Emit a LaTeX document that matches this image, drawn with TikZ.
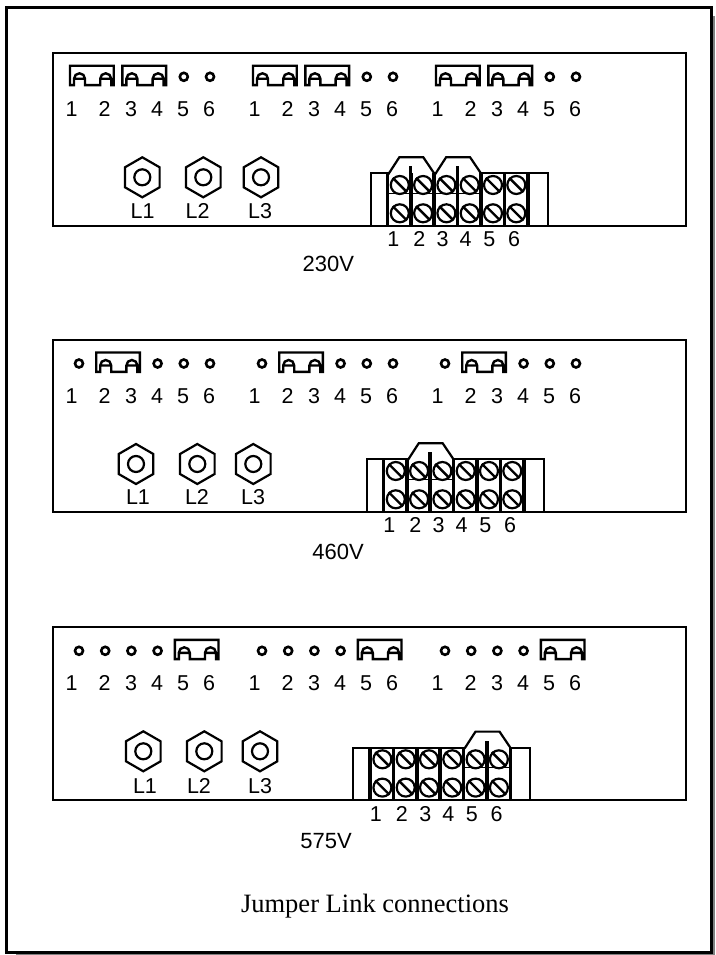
\documentclass[tikz,border=0pt]{standalone}
\usepackage{fontspec}
\setmainfont{Liberation Sans}
\newfontfamily\captionserif{Liberation Serif}
\usetikzlibrary{shapes.geometric}
\newcommand{\jumperlink}[3]{%
  \draw[linkwire] ({#1-9.5},{#3+8.3}) -- ({#1-9.5},{#3-11}) -- ({#2+8},{#3-11}) -- ({#2+8},{#3+8.3})
    -- ({#2+5.5},{#3+8.3}) -- ({#2+5.5},{#3+2}) arc[start angle=0,end angle=180,radius=5.5pt]
    -- ({#2-5.5},{#3+8.3}) -- ({#1+5.5},{#3+8.3}) -- ({#1+5.5},{#3+2}) arc[start angle=0,end angle=180,radius=5.5pt]
    -- ({#1-5.5},{#3+8.3}) -- cycle
    ({#1-5.5},{#3+2}) -- ({#1+5.5},{#3+2}) ({#2-5.5},{#3+2}) -- ({#2+5.5},{#3+2});}
\begin{document}
\begin{tikzpicture}[x=1pt, y=-1pt,
    panelbox/.style ={draw, line width=2.2pt},
    linkwire/.style ={line width=2.4pt, line join=miter},
    pinring/.style ={circle, draw, line width=2.6pt, inner sep=0pt, minimum size=8pt},
    hexnut/.style ={regular polygon, regular polygon sides=6, shape border rotate=30, draw, line width=2.2pt, inner sep=0pt, minimum size=40pt},
    nuthole/.style ={circle, draw, line width=2.2pt, inner sep=0pt, minimum size=16pt},
    screwhead/.style ={circle, draw, line width=2.2pt, inner sep=0pt, minimum size=18pt},
    numlabel/.style ={inner sep=0pt, text height=15.4pt, text depth=0pt, font=\fontsize{21.5}{21.5}\selectfont},
    volts/.style ={inner sep=0pt, text height=15.8pt, text depth=0pt, font=\fontsize{22}{22}\selectfont}]
   \useasboundingbox (0,0) rectangle (715,955);
   % sheet with its shadow
   \draw[gray, line width=2pt] (16,954.6) -- (714.3,954.6) -- (714.3,16);
   \draw[line width=3.2pt] (6.5,7.3) rectangle (711.7,952.3);
   \foreach \pid/\ptop/\pbase/\bshift/\links/\pins/\nuts/\vname/\vx/\vy in {
      1/53.3/225.7/0/{1,3}/{5,6}/{142.3/142.7,203.3/197.7,261/260}/230V/328.3/264,
      2/340/511.7/-4/{2}/{1,4,5,6}/{136/138,197.3/197,253.3/253}/460V/338/552,
      3/627.3/800/-17.4/{5}/{1,2,3,4}/{143.3/145,204.3/199,260/260}/575V/326/840.5} {
     \draw[panelbox] (52.7,\ptop) rectangle (685.7,\pbase);
     % links, pins and numbers, three groups
     \foreach \g in {0,1,2} {
       \foreach \j in \links
         \jumperlink{79.5+183*\g+26.2*(\j-1)}{79.5+183*\g+26.2*\j}{\ptop+23.5};
       \foreach \k in \pins
         \node[pinring] (p\pid g\g pin\k) at ({79+183*\g+26.2*(\k-1)},\ptop+23.5) {};
       \foreach \lx [count=\k] in {71.7,104.7,131,157,183,209}
         \node[numlabel] (p\pid g\g num\k) at ({\lx+183*\g},\ptop+55.7) {\k};
     }
     % phase nuts
     \foreach \nx/\lx [count=\n] in \nuts {
       \node[hexnut] (p\pid nut\n) at (\nx,\ptop+124) {};
       \node[nuthole] (p\pid hole\n) at (p\pid nut\n.center) {};
       \node[numlabel] (p\pid phase\n) at (\lx,\pbase-14.5) {L\n};
     }
     % terminal block
     \draw[line width=2.2pt] ({370.7+\bshift},\pbase) -- ({370.7+\bshift},\pbase-52.4) -- ({547.7+\bshift},\pbase-52.4) -- ({547.7+\bshift},\pbase);
     \foreach \j in \links {
       \fill[white] ({387.3+\bshift+23.4*(\j-1)+1},\pbase-51) -- ++(11,-17) -- ++(24,0) -- ++(12,17) -- cycle;
       \draw[line width=2.2pt] ({387.3+\bshift+23.4*(\j-1)+1},\pbase-51.4) -- ++(11,-17) -- ++(24,0) -- ++(11.5,17);
       \draw[line width=1.5pt] ({387.3+\bshift+23.4*(\j-1)},\pbase-32.4) -- ++(46.8,0);
       \draw[line width=3.5pt] ({387.3+\bshift+23.4*\j},\pbase-52.4) -- ++(0,-7);
     }
     \foreach \t in {0,...,6}
       \draw[line width=3.6pt] ({387.3+\bshift+23.4*\t},\pbase-52.4) -- ++(0,52.4);
     \foreach \lx [count=\t] in {393.3,419.3,442.7,465.7,489.3,514} {
       \node[screwhead] (p\pid up\t) at ({399.8+\bshift+23.3*(\t-1)},\pbase-40.7) {};
       \node[screwhead] (p\pid low\t) at ({399.8+\bshift+23.3*(\t-1)},\pbase-12.4) {};
       \draw[line width=2.4pt] (p\pid up\t.135) -- (p\pid up\t.-45);
       \draw[line width=2.4pt] (p\pid low\t.135) -- (p\pid low\t.-45);
       \node[numlabel] (p\pid term\t) at ({\lx+\bshift},\pbase+13.3) {\t};
     }
     \node[volts] (v\pid) at (\vx,\vy) {\vname};
   }
   \node[inner sep=0pt, font=\captionserif\fontsize{26.5}{26.5}\selectfont] (caption) at (375,906) {Jumper Link connections};
\end{tikzpicture}
\end{document}
